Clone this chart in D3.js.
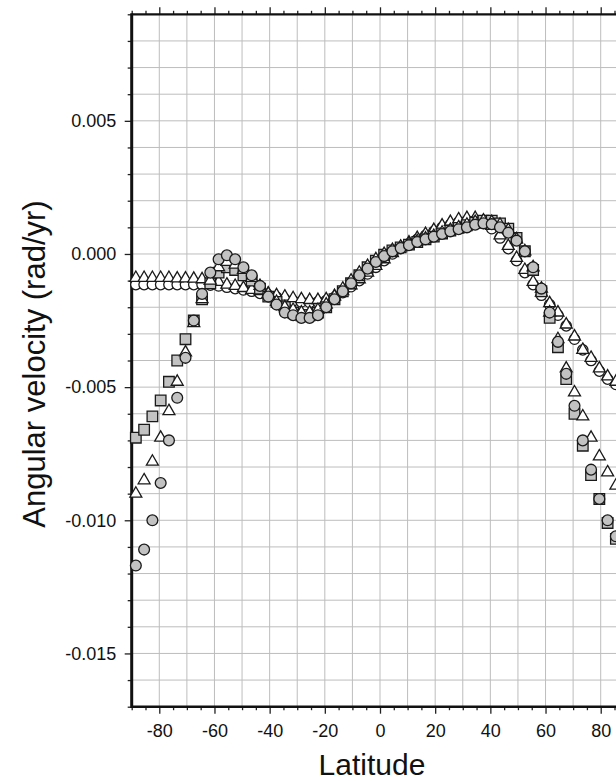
<!DOCTYPE html>
<html>
<head>
<meta charset="utf-8">
<script src="https://cdn.jsdelivr.net/npm/d3@7"></script>
<style>
  body { margin: 0; background: #fff; }
  svg { display: block; font-family: "Liberation Sans", Arial, Helvetica, sans-serif; }
</style>
</head>
<body>
<div id="chart"></div>
<script>
// latitude of each sample (deg)
const latitudes = [-88.5, -85.5, -82.5, -79.5, -76.5, -73.5, -70.5, -67.5, -64.5, -61.5,
  -58.5, -55.5, -52.5, -49.5, -46.5, -43.5, -40.5, -37.5, -34.5, -31.5,
  -28.5, -25.5, -22.5, -19.5, -16.5, -13.5, -10.5, -7.5, -4.5, -1.5,
  1.5, 4.5, 7.5, 10.5, 13.5, 16.5, 19.5, 22.5, 25.5, 28.5,
  31.5, 34.5, 37.5, 40.5, 43.5, 46.5, 49.5, 52.5, 55.5, 58.5,
  61.5, 64.5, 67.5, 70.5, 73.5, 76.5, 79.5, 82.5, 85.5, 88.5];

// smooth profile, open circles
const smoothCircles = [-0.00115, -0.00115, -0.00115, -0.00115, -0.00115, -0.00115, -0.00115, -0.00115, -0.00115, -0.00117,
  -0.0012, -0.00125, -0.0013, -0.00135, -0.0014, -0.00148, -0.00155, -0.00162, -0.0017, -0.00176,
  -0.0018, -0.00182, -0.0018, -0.00175, -0.00163, -0.00145, -0.00123, -0.001, -0.00075, -0.0005,
  -0.00025, 0.0, 0.0002, 0.00038, 0.00055, 0.0007, 0.00085, 0.001, 0.0011, 0.0012,
  0.00125, 0.00125, 0.00115, 0.00095, 0.0006, 0.0002, -0.00025, -0.0007, -0.00115, -0.00155,
  -0.0019, -0.0023, -0.0027, -0.0032, -0.0036, -0.004, -0.0044, -0.0047, -0.0049, -0.0051];

// smooth profile, open triangles
const smoothTriangles = [-0.0009, -0.0009, -0.0009, -0.0009, -0.0009, -0.00092, -0.00092, -0.00093, -0.00095, -0.001,
  -0.00105, -0.00115, -0.0012, -0.00128, -0.00135, -0.0014, -0.00148, -0.00155, -0.0016, -0.00166,
  -0.0017, -0.00173, -0.00173, -0.0017, -0.00158, -0.0014, -0.00118, -0.00095, -0.0007, -0.00045,
  -0.0002, 0.00003, 0.00025, 0.00043, 0.0006, 0.00075, 0.0009, 0.00107, 0.0012, 0.0013,
  0.00135, 0.00135, 0.00125, 0.00105, 0.0007, 0.0003, -0.00015, -0.0006, -0.00105, -0.00145,
  -0.00185, -0.0022, -0.00265, -0.0031, -0.0036, -0.0039, -0.0043, -0.0046, -0.0048, -0.005];

// steep profile, grey squares
const steepSquares = [-0.0069, -0.0066, -0.0061, -0.0055, -0.0048, -0.004, -0.0032, -0.0025, -0.0017, -0.0011,
  -0.0007, -0.0005, -0.0006, -0.0008, -0.001, -0.0013, -0.0016, -0.0018, -0.002, -0.0022,
  -0.0023, -0.0023, -0.0022, -0.002, -0.0017, -0.0014, -0.0011, -0.0008, -0.0005, -0.00025,
  -0.00003, 0.00013, 0.00025, 0.00035, 0.00045, 0.00055, 0.00065, 0.00077, 0.00088, 0.00098,
  0.00108, 0.00118, 0.00125, 0.00125, 0.00115, 0.00095, 0.0006, 0.0001, -0.0006, -0.0014,
  -0.0024, -0.0035, -0.0047, -0.006, -0.0072, -0.0083, -0.0092, -0.0101, -0.0107, -0.0113];

// steep profile, open triangles
const steepTriangles = [-0.009, -0.0085, -0.0078, -0.0069, -0.0059, -0.0048, -0.0037, -0.0026, -0.0017, -0.001,
  -0.0005, -0.0003, -0.0004, -0.0006, -0.0009, -0.0012, -0.0015, -0.0018, -0.002, -0.0021,
  -0.0022, -0.0022, -0.0021, -0.0019, -0.0016, -0.0013, -0.001, -0.0007, -0.00045, -0.0002,
  0.0, 0.00015, 0.00027, 0.00038, 0.00048, 0.00058, 0.00068, 0.0008, 0.0009, 0.001,
  0.0011, 0.0012, 0.00125, 0.0012, 0.0011, 0.0009, 0.00055, 0.0001, -0.0005, -0.0013,
  -0.0022, -0.0032, -0.0043, -0.0052, -0.0061, -0.0069, -0.0076, -0.0082, -0.0087, -0.0091];

// steep profile, grey circles
const steepCircles = [-0.0117, -0.0111, -0.01, -0.0086, -0.007, -0.0054, -0.0039, -0.0025, -0.0015, -0.0007,
  -0.0002, -0.00005, -0.0002, -0.0005, -0.0008, -0.0012, -0.0016, -0.0019, -0.0022, -0.0023,
  -0.0024, -0.0024, -0.0023, -0.002, -0.0017, -0.0014, -0.0011, -0.0008, -0.00055, -0.0003,
  -0.00008, 0.0001, 0.00022, 0.00033, 0.00045, 0.00055, 0.00065, 0.00075, 0.00085, 0.00093,
  0.001, 0.0011, 0.00115, 0.00112, 0.001, 0.0008, 0.0005, 0.0001, -0.0005, -0.0013,
  -0.0022, -0.0033, -0.0045, -0.0057, -0.007, -0.0081, -0.0092, -0.01, -0.0106, -0.0112];

const xTickLabels = [-80, -60, -40, -20, 0, 20, 40, 60, 80];
const yTickLabels = [0.005, 0.000, -0.005, -0.010, -0.015];

const width = 616, height = 781;
const margin = { top: 14.3, left: 131.7, bottom: 74.3 };
const plotRight = 628.3; // plot continues past the cropped edge

const svg = d3.select('#chart').append('svg')
  .attr('width', width)
  .attr('height', height);

svg.append('rect').attr('width', width).attr('height', height).attr('fill', '#fff');

const x = d3.scaleLinear()
  .domain([-90, 90])
  .range([margin.left, plotRight]);

const y = d3.scaleLinear()
  .domain([-0.017, 0.009])
  .range([height - margin.bottom, margin.top]);

// grid
const grid = svg.append('g').attr('class', 'grid')
  .attr('stroke', '#bdbdbd')
  .attr('stroke-width', 1);

grid.selectAll('line.v')
  .data(d3.range(-80, 91, 10))
  .join('line')
  .attr('class', 'v')
  .attr('x1', d => x(d)).attr('x2', d => x(d))
  .attr('y1', y(0.009)).attr('y2', y(-0.017));

grid.selectAll('line.h')
  .data(d3.range(-16, 9).map(d => d / 1000))
  .join('line')
  .attr('class', 'h')
  .attr('x1', x(-90)).attr('x2', x(90))
  .attr('y1', d => y(d)).attr('y2', d => y(d));

// axes
const fontSize = 18;

const minorX = d3.range(-90, 91, 5).filter(d => d % 20 !== 0);
const minorY = d3.range(-17, 10).filter(d => d % 5 !== 0).map(d => d / 1000);

const axisB = svg.append('g')
  .attr('transform', `translate(0,${y(-0.017)})`);
axisB.append('g')
  .call(d3.axisBottom(x).tickValues(minorX).tickSize(3.5).tickFormat(''));
axisB.append('g')
  .call(d3.axisBottom(x).tickValues(xTickLabels).tickSize(7).tickPadding(10.5)
    .tickFormat(d => d.toString()));

const axisT = svg.append('g')
  .attr('transform', `translate(0,${y(0.009)})`);
axisT.append('g')
  .call(d3.axisTop(x).tickValues(minorX).tickSize(3.5).tickFormat(''));
axisT.append('g')
  .call(d3.axisTop(x).tickValues(xTickLabels).tickSize(7).tickFormat(''));

const axisL = svg.append('g')
  .attr('transform', `translate(${x(-90)},0)`);
axisL.append('g')
  .call(d3.axisLeft(y).tickValues(minorY).tickSize(4).tickFormat(''));
axisL.append('g')
  .call(d3.axisLeft(y).tickValues(yTickLabels).tickSize(7).tickPadding(8.5)
    .tickFormat(d => d.toFixed(3)));

svg.selectAll('.domain').remove();
svg.selectAll('.tick line').attr('stroke', '#222').attr('stroke-width', 1.3);
svg.selectAll('.tick text')
  .attr('font-size', fontSize)
  .attr('font-family', '"Liberation Sans", Arial, sans-serif')
  .attr('fill', '#111');

// frame
const frame = svg.append('g').attr('stroke', '#111').attr('fill', 'none');
frame.append('line')
  .attr('x1', x(-90)).attr('x2', x(-90))
  .attr('y1', y(0.009) - 1).attr('y2', y(-0.017) + 1.2)
  .attr('stroke-width', 3);
frame.append('line')
  .attr('x1', x(-90)).attr('x2', x(90))
  .attr('y1', y(0.009)).attr('y2', y(0.009))
  .attr('stroke-width', 2.2);
frame.append('line')
  .attr('x1', x(-90)).attr('x2', x(90))
  .attr('y1', y(-0.017)).attr('y2', y(-0.017))
  .attr('stroke-width', 2.6);

// markers
const series = [
  { values: smoothCircles, shape: d3.symbolCircle, size: 85, fill: '#fff' },
  { values: smoothTriangles, shape: d3.symbolTriangle, size: 62, fill: '#fff' },
  { values: steepSquares, shape: d3.symbolSquare, size: 112, fill: '#c2c2c2' },
  { values: steepTriangles, shape: d3.symbolTriangle, size: 62, fill: '#fff' },
  { values: steepCircles, shape: d3.symbolCircle, size: 92, fill: '#c2c2c2' }
];

series.forEach(s => {
  const sym = d3.symbol().type(s.shape).size(s.size);
  svg.append('g')
    .selectAll('path')
    .data(latitudes.map((lat, i) => ({ lat, v: s.values[i] })))
    .join('path')
    .attr('transform', d => `translate(${x(d.lat)},${y(d.v)})`)
    .attr('d', sym)
    .attr('fill', s.fill)
    .attr('stroke', '#1a1a1a')
    .attr('stroke-width', 1.3);
});

// titles
svg.append('text')
  .attr('x', 372)
  .attr('y', 775)
  .attr('text-anchor', 'middle')
  .attr('font-size', 30)
  .attr('fill', '#111')
  .text('Latitude');

svg.append('text')
  .attr('transform', 'translate(45,364) rotate(-90)')
  .attr('text-anchor', 'middle')
  .attr('font-size', 31)
  .attr('fill', '#111')
  .text('Angular velocity (rad/yr)');
</script>
</body>
</html>
